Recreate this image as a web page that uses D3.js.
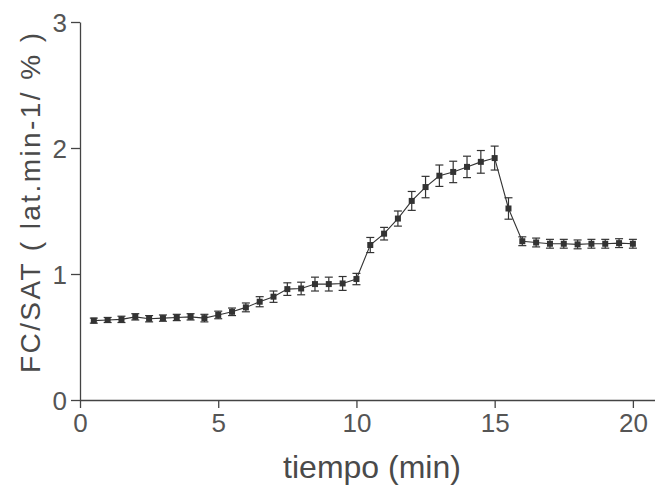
<!DOCTYPE html>
<html>
<head>
<meta charset="utf-8">
<script src="https://cdn.jsdelivr.net/npm/d3@7"></script>
<style>
  body { margin: 0; background: #fff; }
  svg text { font-family: "Liberation Sans", Arial, sans-serif; fill: #4a4a4a; }
</style>
</head>
<body>
<div id="chart"></div>
<script>
/** data **/
var tiempo = [0.5, 1, 1.5, 2, 2.5, 3, 3.5, 4, 4.5, 5,
              5.5, 6, 6.5, 7, 7.5, 8, 8.5, 9, 9.5, 10,
              10.5, 11, 11.5, 12, 12.5, 13, 13.5, 14, 14.5, 15,
              15.5, 16, 16.5, 17, 17.5, 18, 18.5, 19, 19.5, 20];
var fcsat = [0.63, 0.635, 0.64, 0.66, 0.645, 0.65, 0.655, 0.66, 0.65, 0.675,
             0.70, 0.735, 0.78, 0.82, 0.88, 0.885, 0.92, 0.92, 0.925, 0.96,
             1.23, 1.32, 1.44, 1.58, 1.69, 1.78, 1.81, 1.85, 1.89, 1.92,
             1.52, 1.26, 1.25, 1.24, 1.24, 1.235, 1.24, 1.24, 1.245, 1.24];
var errores = [0.02, 0.02, 0.025, 0.025, 0.025, 0.025, 0.025, 0.025, 0.03, 0.03,
               0.03, 0.035, 0.04, 0.045, 0.05, 0.05, 0.055, 0.055, 0.055, 0.045,
               0.06, 0.05, 0.06, 0.075, 0.085, 0.085, 0.085, 0.085, 0.09, 0.095,
               0.085, 0.035, 0.035, 0.035, 0.035, 0.035, 0.035, 0.035, 0.035, 0.035];
var xTicks = [0, 5, 10, 15, 20];
var yTicks = [0, 1, 2, 3];

var datos = tiempo.map(function(t, i) { return {t: t, v: fcsat[i], e: errores[i]}; });

var svg = d3.select("#chart").append("svg")
            .attr("width", 655)
            .attr("height", 489);

var x = d3.scaleLinear().domain([0, 20.8]).range([80, 655]);
var y = d3.scaleLinear().domain([0, 3]).range([400, 22]);

/** axes **/
var gx = svg.append("g")
            .attr("transform", "translate(0,400)")
            .call(d3.axisBottom(x).tickValues(xTicks).tickSize(8).tickSizeOuter(0).tickPadding(6));
var gy = svg.append("g")
            .attr("transform", "translate(80,0)")
            .call(d3.axisLeft(y).tickValues(yTicks).tickFormat(d3.format("d"))
                    .tickSize(9).tickSizeOuter(0).tickPadding(4));

svg.selectAll(".domain, .tick line").style("stroke", "#444").style("stroke-width", 1.3);
svg.selectAll(".tick text").style("font-size", "26px").style("fill", "#555");
gy.selectAll(".tick text").attr("dy", "0.36em");

/** line **/
var line = d3.line()
             .x(function(d) { return x(d.t); })
             .y(function(d) { return y(d.v); });

svg.append("path")
   .datum(datos)
   .attr("d", line)
   .style("fill", "none")
   .style("stroke", "#333")
   .style("stroke-width", 1.1);

/** error bars **/
var eb = svg.append("g").selectAll("g")
            .data(datos)
            .enter().append("g");

eb.append("line")
  .attr("x1", function(d) { return x(d.t); })
  .attr("x2", function(d) { return x(d.t); })
  .attr("y1", function(d) { return y(d.v - d.e); })
  .attr("y2", function(d) { return y(d.v + d.e); });
eb.append("line")
  .attr("x1", function(d) { return x(d.t) - 4; })
  .attr("x2", function(d) { return x(d.t) + 4; })
  .attr("y1", function(d) { return y(d.v + d.e); })
  .attr("y2", function(d) { return y(d.v + d.e); });
eb.append("line")
  .attr("x1", function(d) { return x(d.t) - 4; })
  .attr("x2", function(d) { return x(d.t) + 4; })
  .attr("y1", function(d) { return y(d.v - d.e); })
  .attr("y2", function(d) { return y(d.v - d.e); });
eb.selectAll("line").style("stroke", "#333").style("stroke-width", 1.2);

/** markers **/
svg.append("g").selectAll("rect")
   .data(datos)
   .enter().append("rect")
   .attr("x", function(d) { return x(d.t) - 3; })
   .attr("y", function(d) { return y(d.v) - 3; })
   .attr("width", 6)
   .attr("height", 6)
   .style("fill", "#333");

/** labels **/
svg.append("text")
   .text("tiempo (min)")
   .attr("x", 372)
   .attr("y", 478)
   .attr("text-anchor", "middle")
   .style("font-size", "32px");

svg.append("text")
   .text("FC/SAT ( lat.min-1/ % )")
   .attr("transform", "translate(40,203) rotate(-90)")
   .attr("text-anchor", "middle")
   .attr("textLength", 340)
   .style("font-size", "28px");
</script>
</body>
</html>
